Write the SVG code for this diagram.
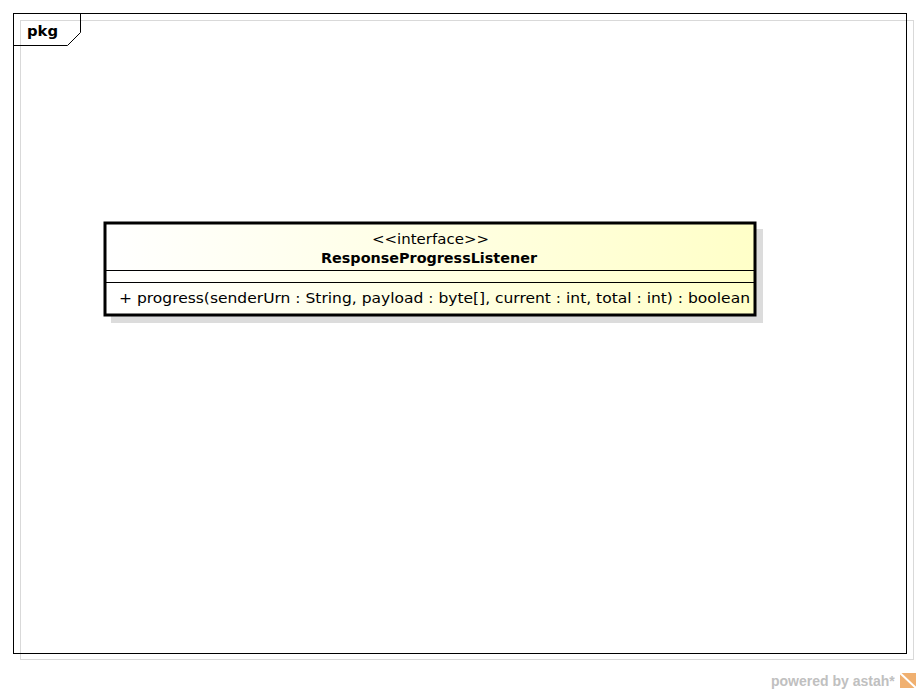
<svg xmlns="http://www.w3.org/2000/svg" width="921" height="693" viewBox="0 0 921 693">
<defs>
<linearGradient id="g" x1="0" y1="0" x2="1" y2="0">
<stop offset="0" stop-color="#ffffff"/>
<stop offset="1" stop-color="#ffffc8"/>
</linearGradient>
<style>
.t{font-family:"DejaVu Sans",sans-serif;font-size:14px;fill:#000}
.b{font-weight:bold}
</style>
</defs>
<rect width="921" height="693" fill="#fff"/>
<g id="frame">
<rect x="20.5" y="20.5" width="893" height="639" fill="none" stroke="#d9d9d9"/>
<rect x="13.5" y="13.5" width="893" height="640" fill="none" stroke="#000"/>
<path d="M13.5 45.5 H67.5 L80.5 32.5 V13.5" fill="none" stroke="#000"/>
<text x="27" y="36" class="t b" textLength="31" lengthAdjust="spacingAndGlyphs">pkg</text>
</g>
<g id="ResponseProgressListener">
<rect x="111" y="229" width="652" height="94" fill="#dcdcdc"/>
<rect x="105" y="223" width="650" height="92" fill="url(#g)" stroke="#000" stroke-width="3"/>
<line x1="105" y1="270.5" x2="755" y2="270.5" stroke="#000"/>
<line x1="105" y1="282.5" x2="755" y2="282.5" stroke="#000"/>
<text x="372" y="244" class="t" font-size="15" textLength="117" lengthAdjust="spacingAndGlyphs">&lt;&lt;interface&gt;&gt;</text>
<text x="321" y="263" class="t b" textLength="216" lengthAdjust="spacingAndGlyphs">ResponseProgressListener</text>
<text x="119" y="303" class="t" font-size="15" textLength="631" lengthAdjust="spacingAndGlyphs">+ progress(senderUrn : String, payload : byte[], current : int, total : int) : boolean</text>
</g>
<g id="watermark">
<text x="771" y="686" font-family="Liberation Sans, Arial, sans-serif" font-size="14" font-weight="bold" fill="#c0c0c0">powered by astah*</text>
<rect x="900" y="673" width="16" height="15" fill="#f0b070"/>
<path d="M900 673 L916 688" stroke="#fff" stroke-width="2"/>
</g>
</svg>
